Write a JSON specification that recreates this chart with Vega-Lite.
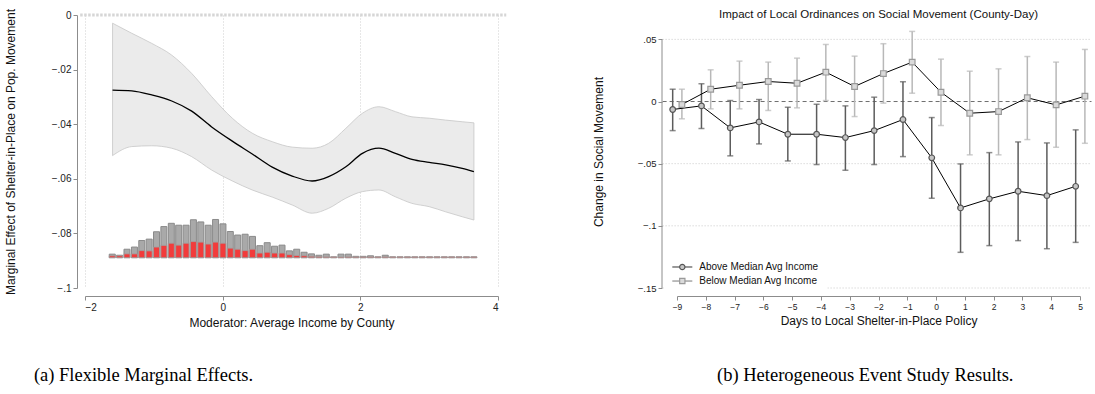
{
  "$schema": "https://vega.github.io/schema/vega-lite/v6.json",
  "padding": {"left": 4, "top": 8, "right": 2, "bottom": 2},
  "spacing": 84,
  "background": "white",
  "resolve": {"scale": {"shape": "independent", "stroke": "independent", "fill": "independent", "color": "independent"}},
  "config": {
    "font": "Liberation Sans",
    "view": {"stroke": null},
    "axis": {
      "domainColor": "#8c8c8c",
      "tickColor": "#8c8c8c",
      "tickSize": 4,
      "labelColor": "#222",
      "titleColor": "#111",
      "titleFontWeight": "normal",
      "labelFont": "Liberation Sans",
      "titleFont": "Liberation Sans",
      "labelOverlap": false,
      "labelSeparation": 0
    }
  },
  "datasets": {
    "curve": [
      {"x": -1.60, "est": -0.0275, "lo": -0.0515, "hi": -0.0030},
      {"x": -1.32, "est": -0.0278, "lo": -0.0482, "hi": -0.0067},
      {"x": -1.03, "est": -0.0293, "lo": -0.0479, "hi": -0.0104},
      {"x": -0.74, "est": -0.0315, "lo": -0.0488, "hi": -0.0147},
      {"x": -0.45, "est": -0.0352, "lo": -0.0519, "hi": -0.0214},
      {"x": -0.16, "est": -0.0410, "lo": -0.0568, "hi": -0.0299},
      {"x": 0.14, "est": -0.0462, "lo": -0.0608, "hi": -0.0378},
      {"x": 0.43, "est": -0.0509, "lo": -0.0641, "hi": -0.0433},
      {"x": 0.72, "est": -0.0557, "lo": -0.0667, "hi": -0.0464},
      {"x": 1.01, "est": -0.0590, "lo": -0.0696, "hi": -0.0484},
      {"x": 1.30, "est": -0.0608, "lo": -0.0726, "hi": -0.0488},
      {"x": 1.54, "est": -0.0592, "lo": -0.0708, "hi": -0.0470},
      {"x": 1.79, "est": -0.0556, "lo": -0.0671, "hi": -0.0415},
      {"x": 2.03, "est": -0.0507, "lo": -0.0647, "hi": -0.0360},
      {"x": 2.27, "est": -0.0488, "lo": -0.0641, "hi": -0.0336},
      {"x": 2.51, "est": -0.0507, "lo": -0.0666, "hi": -0.0354},
      {"x": 2.75, "est": -0.0529, "lo": -0.0690, "hi": -0.0373},
      {"x": 3.00, "est": -0.0540, "lo": -0.0702, "hi": -0.0378},
      {"x": 3.24, "est": -0.0549, "lo": -0.0721, "hi": -0.0385},
      {"x": 3.48, "est": -0.0562, "lo": -0.0739, "hi": -0.0391},
      {"x": 3.65, "est": -0.0574, "lo": -0.0751, "hi": -0.0395}
    ],
    "hist": [
      {"x": -1.604, "all": -0.0876, "treated": -0.0882},
      {"x": -1.497, "all": -0.0880, "treated": -0.0882},
      {"x": -1.390, "all": -0.0858, "treated": -0.0875},
      {"x": -1.282, "all": -0.0850, "treated": -0.0875},
      {"x": -1.175, "all": -0.0826, "treated": -0.0863},
      {"x": -1.068, "all": -0.0821, "treated": -0.0864},
      {"x": -0.961, "all": -0.0794, "treated": -0.0850},
      {"x": -0.854, "all": -0.0775, "treated": -0.0844},
      {"x": -0.746, "all": -0.0763, "treated": -0.0836},
      {"x": -0.639, "all": -0.0770, "treated": -0.0843},
      {"x": -0.532, "all": -0.0770, "treated": -0.0836},
      {"x": -0.425, "all": -0.0750, "treated": -0.0830},
      {"x": -0.318, "all": -0.0758, "treated": -0.0832},
      {"x": -0.210, "all": -0.0770, "treated": -0.0839},
      {"x": -0.103, "all": -0.0749, "treated": -0.0832},
      {"x": 0.004, "all": -0.0765, "treated": -0.0836},
      {"x": 0.111, "all": -0.0793, "treated": -0.0854},
      {"x": 0.218, "all": -0.0806, "treated": -0.0858},
      {"x": 0.326, "all": -0.0803, "treated": -0.0863},
      {"x": 0.433, "all": -0.0811, "treated": -0.0858},
      {"x": 0.540, "all": -0.0845, "treated": -0.0872},
      {"x": 0.647, "all": -0.0834, "treated": -0.0869},
      {"x": 0.754, "all": -0.0847, "treated": -0.0872},
      {"x": 0.862, "all": -0.0843, "treated": -0.0872},
      {"x": 0.969, "all": -0.0864, "treated": -0.0878},
      {"x": 1.076, "all": -0.0858, "treated": -0.0881},
      {"x": 1.183, "all": -0.0869, "treated": -0.0882},
      {"x": 1.290, "all": -0.0875, "treated": -0.0884},
      {"x": 1.398, "all": -0.0880, "treated": -0.0885},
      {"x": 1.505, "all": -0.0876, "treated": -0.0886},
      {"x": 1.612, "all": -0.0886, "treated": -0.0886},
      {"x": 1.719, "all": -0.0876, "treated": -0.0886},
      {"x": 1.826, "all": -0.0876, "treated": -0.0886},
      {"x": 1.934, "all": -0.0884, "treated": -0.0886},
      {"x": 2.041, "all": -0.0884, "treated": -0.0886},
      {"x": 2.148, "all": -0.0882, "treated": -0.0886},
      {"x": 2.255, "all": -0.0886, "treated": -0.0886},
      {"x": 2.362, "all": -0.0880, "treated": -0.0886},
      {"x": 2.470, "all": -0.0886, "treated": -0.0886},
      {"x": 2.577, "all": -0.0886, "treated": -0.0886},
      {"x": 2.684, "all": -0.0886, "treated": -0.0886},
      {"x": 2.791, "all": -0.0886, "treated": -0.0886},
      {"x": 2.898, "all": -0.0886, "treated": -0.0886},
      {"x": 3.006, "all": -0.0886, "treated": -0.0886},
      {"x": 3.113, "all": -0.0886, "treated": -0.0886},
      {"x": 3.220, "all": -0.0886, "treated": -0.0886},
      {"x": 3.327, "all": -0.0886, "treated": -0.0886},
      {"x": 3.434, "all": -0.0886, "treated": -0.0886},
      {"x": 3.542, "all": -0.0886, "treated": -0.0886},
      {"x": 3.649, "all": -0.0886, "treated": -0.0886}
    ],
    "events": [
      {"x": -9.15, "group": "Above Median Avg Income", "est": -0.0064, "lo": -0.0234, "hi": 0.0099},
      {"x": -8.15, "group": "Above Median Avg Income", "est": -0.0035, "lo": -0.0217, "hi": 0.0143},
      {"x": -7.15, "group": "Above Median Avg Income", "est": -0.0212, "lo": -0.0437, "hi": 0.0008},
      {"x": -6.15, "group": "Above Median Avg Income", "est": -0.0164, "lo": -0.0341, "hi": 0.0016},
      {"x": -5.15, "group": "Above Median Avg Income", "est": -0.0263, "lo": -0.0478, "hi": -0.0046},
      {"x": -4.15, "group": "Above Median Avg Income", "est": -0.0263, "lo": -0.0507, "hi": -0.0022},
      {"x": -3.15, "group": "Above Median Avg Income", "est": -0.0290, "lo": -0.0553, "hi": -0.0035},
      {"x": -2.15, "group": "Above Median Avg Income", "est": -0.0234, "lo": -0.0507, "hi": 0.0035},
      {"x": -1.15, "group": "Above Median Avg Income", "est": -0.0145, "lo": -0.0443, "hi": 0.0159},
      {"x": -0.15, "group": "Above Median Avg Income", "est": -0.0453, "lo": -0.0778, "hi": -0.0129},
      {"x": 0.85, "group": "Above Median Avg Income", "est": -0.0856, "lo": -0.1213, "hi": -0.0502},
      {"x": 1.85, "group": "Above Median Avg Income", "est": -0.0783, "lo": -0.1159, "hi": -0.0411},
      {"x": 2.85, "group": "Above Median Avg Income", "est": -0.0722, "lo": -0.1119, "hi": -0.0325},
      {"x": 3.85, "group": "Above Median Avg Income", "est": -0.0757, "lo": -0.1184, "hi": -0.0333},
      {"x": 4.85, "group": "Above Median Avg Income", "est": -0.0682, "lo": -0.1133, "hi": -0.0228},
      {"x": -8.83, "group": "Below Median Avg Income", "est": -0.0024, "lo": -0.0139, "hi": 0.0099},
      {"x": -7.83, "group": "Below Median Avg Income", "est": 0.0099, "lo": -0.0059, "hi": 0.0255},
      {"x": -6.83, "group": "Below Median Avg Income", "est": 0.0131, "lo": -0.0059, "hi": 0.0325},
      {"x": -5.83, "group": "Below Median Avg Income", "est": 0.0161, "lo": -0.0072, "hi": 0.0317},
      {"x": -4.83, "group": "Below Median Avg Income", "est": 0.0147, "lo": -0.0051, "hi": 0.0349},
      {"x": -3.83, "group": "Below Median Avg Income", "est": 0.0236, "lo": 0.0008, "hi": 0.0459},
      {"x": -2.83, "group": "Below Median Avg Income", "est": 0.0121, "lo": -0.0121, "hi": 0.0365},
      {"x": -1.83, "group": "Below Median Avg Income", "est": 0.0225, "lo": -0.0013, "hi": 0.0465},
      {"x": -0.83, "group": "Below Median Avg Income", "est": 0.0317, "lo": 0.0067, "hi": 0.0564},
      {"x": 0.17, "group": "Below Median Avg Income", "est": 0.0075, "lo": -0.0193, "hi": 0.0341},
      {"x": 1.17, "group": "Below Median Avg Income", "est": -0.0094, "lo": -0.0429, "hi": 0.0244},
      {"x": 2.17, "group": "Below Median Avg Income", "est": -0.0081, "lo": -0.0429, "hi": 0.0263},
      {"x": 3.17, "group": "Below Median Avg Income", "est": 0.0030, "lo": -0.0306, "hi": 0.0362},
      {"x": 4.17, "group": "Below Median Avg Income", "est": -0.0027, "lo": -0.0368, "hi": 0.0317},
      {"x": 5.17, "group": "Below Median Avg Income", "est": 0.0043, "lo": -0.0336, "hi": 0.0419}
    ]
  },
  "hconcat": [
    {
      "width": 413,
      "height": 273,
      "layer": [
        {
          "data": {"name": "curve"},
          "mark": {"type": "area", "fill": "#ebebeb", "stroke": "#c6c6c6", "strokeWidth": 0.8, "interpolate": "monotone"},
          "encoding": {
            "x": {"field": "x", "type": "quantitative",
              "scale": {"domain": [-2, 4], "nice": false, "zero": false, "padding": 0},
              "axis": {"values": [-2, 0, 2, 4], "format": "~g", "offset": 8, "grid": true, "gridDash": [1, 2], "gridColor": "#cfcfcf",
                "labelFontSize": 10, "labelPadding": 2, "title": "Moderator: Average Income by County", "titleFontSize": 12, "titlePadding": 5}},
            "y": {"field": "lo", "type": "quantitative",
              "scale": {"domain": [-0.1, 0], "nice": false, "zero": false, "padding": 0},
              "axis": {"values": [-0.1, -0.08, -0.06, -0.04, -0.02, 0], "offset": 8, "grid": false,
                "labelExpr": "replace(format(datum.value, '.2~f'), '0.', '.')", "labelFontSize": 10, "labelPadding": 2,
                "title": "Marginal Effect of Shelter-in-Place on Pop. Movement", "titleFontSize": 12, "titlePadding": 34}},
            "y2": {"field": "hi"}
          }
        },
        {
          "data": {"values": [{"ref": 0}]},
          "mark": {"type": "rule", "stroke": "#d6d6d6", "strokeWidth": 3, "strokeDash": [2.5, 1.5]},
          "encoding": {"y": {"field": "ref", "type": "quantitative"}, "x": {"datum": -2.07}, "x2": {"datum": 4.12}}
        },
        {
          "data": {"name": "curve"},
          "mark": {"type": "line", "color": "black", "strokeWidth": 1.3, "interpolate": "monotone"},
          "encoding": {"x": {"field": "x", "type": "quantitative"}, "y": {"field": "est", "type": "quantitative"}}
        },
        {
          "data": {"name": "hist"},
          "mark": {"type": "bar", "width": 6, "fill": "#a9a9a9", "stroke": "#8a8a8a", "strokeWidth": 1},
          "encoding": {"x": {"field": "x", "type": "quantitative"}, "y": {"field": "all", "type": "quantitative"}, "y2": {"datum": -0.0889}}
        },
        {
          "data": {"name": "hist"},
          "mark": {"type": "bar", "width": 6, "fill": "#f23b3b", "stroke": "#a0a0a0", "strokeWidth": 0.8},
          "encoding": {"x": {"field": "x", "type": "quantitative"}, "y": {"field": "treated", "type": "quantitative"}, "y2": {"datum": -0.0889}}
        },
        {
          "data": {"values": [{"caption": "(a) Flexible Marginal Effects."}]},
          "mark": {"type": "text", "font": "Liberation Serif", "fontSize": 18.5, "color": "black", "align": "center", "baseline": "middle"},
          "encoding": {"text": {"field": "caption"}, "x": {"datum": -1.15}, "y": {"datum": -0.1319}}
        }
      ]
    },
    {
      "width": 403,
      "height": 273,
      "layer": [
        {
          "data": {"values": [{"g": 0.05}, {"g": -0.05}, {"g": -0.1}, {"g": -0.15}]},
          "mark": {"type": "rule", "stroke": "#c8c8c8", "strokeWidth": 1, "strokeDash": [1, 2]},
          "encoding": {
            "y": {"field": "g", "type": "quantitative",
              "scale": {"domain": [-0.15, 0.0696], "nice": false, "zero": false, "padding": 0},
              "axis": {"values": [-0.15, -0.1, -0.05, 0, 0.05], "offset": 15, "grid": false, "domain": false,
                "labelExpr": "replace(format(datum.value, '.2~f'), '0.', '.')", "labelFontSize": 9.5, "labelPadding": 2,
                "title": "Change in Social Movement", "titleFontSize": 12, "titlePadding": 32}},
            "x": {"datum": -9.5,
              "scale": {"domain": [-9, 5], "nice": false, "zero": false, "padding": 0},
              "axis": {"tickCount": 14, "format": "d", "offset": 8, "grid": false, "labelOverlap": false, "labelSeparation": 0, "labelFlush": false,
                "labelFontSize": 8.5, "labelPadding": 2, "title": "Days to Local Shelter-in-Place Policy", "titleFontSize": 12, "titlePadding": 5}},
            "x2": {"datum": 5.4}
          }
        },
        {
          "data": {"values": [{"g": 0}]},
          "mark": {"type": "rule", "stroke": "#6e6e6e", "strokeWidth": 1, "strokeDash": [4, 3]},
          "encoding": {"y": {"field": "g", "type": "quantitative"}, "x": {"datum": -9.5}, "x2": {"datum": 5.4}}
        },
        {
          "data": {"values": [{"lo": -0.15, "hi": 0.05}]},
          "mark": {"type": "rule", "stroke": "#8c8c8c", "strokeWidth": 1},
          "encoding": {"y": {"field": "lo", "type": "quantitative"}, "y2": {"field": "hi"}, "x": {"datum": -9.521}}
        },
        {
          "data": {"name": "events"},
          "mark": {"type": "rule", "strokeWidth": 1.5},
          "encoding": {
            "x": {"field": "x", "type": "quantitative"},
            "y": {"field": "lo", "type": "quantitative"},
            "y2": {"field": "hi"},
            "color": {"field": "group", "type": "nominal", "scale": {"domain": ["Above Median Avg Income", "Below Median Avg Income"], "range": ["#5c5c5c", "#b8b8b8"]}, "legend": null}
          }
        },
        {
          "data": {"name": "events"},
          "mark": {"type": "tick", "orient": "horizontal", "size": 6, "thickness": 1.5},
          "encoding": {
            "x": {"field": "x", "type": "quantitative"},
            "y": {"field": "lo", "type": "quantitative"},
            "color": {"field": "group", "type": "nominal", "legend": null}
          }
        },
        {
          "data": {"name": "events"},
          "mark": {"type": "tick", "orient": "horizontal", "size": 6, "thickness": 1.5},
          "encoding": {
            "x": {"field": "x", "type": "quantitative"},
            "y": {"field": "hi", "type": "quantitative"},
            "color": {"field": "group", "type": "nominal", "legend": null}
          }
        },
        {
          "data": {"name": "events"},
          "mark": {"type": "line", "color": "black", "strokeWidth": 1},
          "encoding": {"x": {"field": "x", "type": "quantitative"}, "y": {"field": "est", "type": "quantitative"}, "detail": {"field": "group"}}
        },
        {
          "data": {"name": "events"},
          "mark": {"type": "point", "size": 32, "strokeWidth": 1.2, "opacity": 1},
          "encoding": {
            "x": {"field": "x", "type": "quantitative"},
            "y": {"field": "est", "type": "quantitative"},
            "shape": {"field": "group", "type": "nominal", "scale": {"domain": ["Above Median Avg Income", "Below Median Avg Income"], "range": ["circle", "square"]}, "legend": null},
            "stroke": {"field": "group", "type": "nominal", "scale": {"domain": ["Above Median Avg Income", "Below Median Avg Income"], "range": ["#555555", "#9a9a9a"]}, "legend": null},
            "fill": {"field": "group", "type": "nominal", "scale": {"domain": ["Above Median Avg Income", "Below Median Avg Income"], "range": ["#c6c6c6", "#dadada"]}, "legend": null}
          }
        },
        {
          "data": {"values": [{"box": "legend"}]},
          "mark": {"type": "rect", "fill": "white", "stroke": null},
          "encoding": {"x": {"datum": -9.459}, "x2": {"datum": -3.78}, "y": {"datum": -0.1251}, "y2": {"datum": -0.1532}}
        },
        {
          "data": {"values": [{"group": "Above Median Avg Income"}]},
          "mark": {"type": "rule", "stroke": "#555555", "strokeWidth": 1.2},
          "encoding": {"x": {"datum": -9.163}, "x2": {"datum": -8.468}, "y": {"datum": -0.1331}}
        },
        {
          "data": {"values": [{"group": "Above Median Avg Income"}]},
          "mark": {"type": "point", "shape": "circle", "size": 28, "stroke": "#555555", "fill": "#c6c6c6", "filled": true, "strokeWidth": 1.2, "opacity": 1},
          "encoding": {"x": {"datum": -8.816}, "y": {"datum": -0.1331}}
        },
        {
          "data": {"values": [{"group": "Above Median Avg Income"}]},
          "mark": {"type": "text", "font": "Liberation Sans", "fontSize": 10, "color": "#111", "align": "left", "baseline": "middle"},
          "encoding": {"text": {"field": "group"}, "x": {"datum": -8.225}, "y": {"datum": -0.1331}}
        },
        {
          "data": {"values": [{"group": "Below Median Avg Income"}]},
          "mark": {"type": "rule", "stroke": "#8f8f8f", "strokeWidth": 1.2},
          "encoding": {"x": {"datum": -9.163}, "x2": {"datum": -8.468}, "y": {"datum": -0.1444}}
        },
        {
          "data": {"values": [{"group": "Below Median Avg Income"}]},
          "mark": {"type": "point", "shape": "square", "size": 28, "stroke": "#9a9a9a", "fill": "#dadada", "filled": true, "strokeWidth": 1.2, "opacity": 1},
          "encoding": {"x": {"datum": -8.816}, "y": {"datum": -0.1444}}
        },
        {
          "data": {"values": [{"group": "Below Median Avg Income"}]},
          "mark": {"type": "text", "font": "Liberation Sans", "fontSize": 10, "color": "#111", "align": "left", "baseline": "middle"},
          "encoding": {"text": {"field": "group"}, "x": {"datum": -8.225}, "y": {"datum": -0.1444}}
        },
        {
          "data": {"values": [{"title": "Impact of Local Ordinances on Social Movement (County-Day)"}]},
          "mark": {"type": "text", "font": "Liberation Sans", "fontSize": 11.5, "color": "#111", "align": "center", "baseline": "middle"},
          "encoding": {"text": {"field": "title"}, "x": {"datum": -2.0}, "y": {"datum": 0.0696}}
        },
        {
          "data": {"values": [{"caption": "(b) Heterogeneous Event Study Results."}]},
          "mark": {"type": "text", "font": "Liberation Serif", "fontSize": 18.5, "color": "black", "align": "center", "baseline": "middle"},
          "encoding": {"text": {"field": "caption"}, "x": {"datum": -2.46}, "y": {"datum": -0.22}}
        }
      ]
    }
  ]
}
